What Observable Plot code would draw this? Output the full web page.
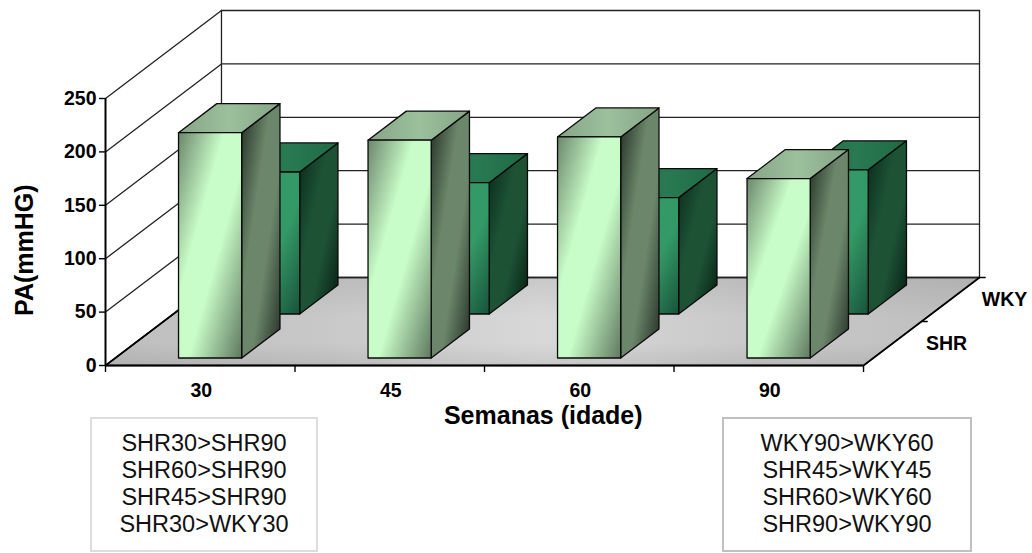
<!DOCTYPE html>
<html>
<head>
<meta charset="utf-8">
<script src="https://cdn.jsdelivr.net/npm/d3@7"></script>
<script src="https://cdn.jsdelivr.net/npm/@observablehq/plot@0.6"></script>
<style>
html,body{margin:0;padding:0;background:#fff;}
#wrap{width:1032px;height:553px;position:relative;overflow:hidden;font-family:"Liberation Sans",Arial,sans-serif;}
#notes{position:relative;height:136px;}
.box{position:absolute;top:0;height:135px;box-sizing:border-box;border-style:solid;border-width:2px;display:flex;align-items:center;justify-content:center;text-align:center;font-size:23.5px;line-height:27px;color:#111;background:#fff;padding-bottom:2px;}
</style>
</head>
<body>
<div id="wrap"></div>
<script>
const weeks = ["30", "45", "60", "90"];
const shrValues = [211, 204, 207, 168];
const wkyValues = [133, 123, 109, 135];
const valueTicks = [0, 50, 100, 150, 200, 250];
const seriesNames = ["SHR", "WKY"];
const leftNotes = ["SHR30>SHR90", "SHR60>SHR90", "SHR45>SHR90", "SHR30>WKY30"];
const rightNotes = ["WKY90>WKY60", "SHR45>WKY45", "SHR60>WKY60", "SHR90>WKY90"];

// oblique projection: depth d in [0, 2] (series slots) shifts along x and up in value
const DX = 0.306;   // category widths per series slot
const DY = 41.2;    // value units per series slot
const P = (c, v, d) => ({x: c + d * DX, y: v + d * DY});
const seg = (pts, opts) => Plot.line(pts, {x: "x", y: "y", curve: "linear", ...opts});
const poly = (pts, opts) => seg([...pts, pts[0]], opts);

const grid = {stroke: "#222", strokeWidth: 1.3};
const walls = valueTicks.flatMap(v => [
  seg([P(0, v, 0), P(0, v, 2)], grid),
  seg([P(0, v, 2), P(4, v, 2)], grid)
]);
walls.push(seg([P(0, 0, 2), P(0, 250, 2)], grid));
walls.push(seg([P(4, 0, 2), P(4, 250, 2)], grid));

const floorCorners = [P(0, 0, 0), P(4, 0, 0), P(4, 0, 2), P(0, 0, 2)];
const floor = [
  poly(floorCorners, {fill: "url(#floor)", stroke: "#222", strokeWidth: 1.3}),
  poly(floorCorners, {fill: "url(#floorshade)"})
];

function bar(i, v, slot, kind) {
  const c0 = i + 1 / 3, c1 = i + 2 / 3;          // gap width 200%
  const d0 = slot + 0.17, d1 = slot + 0.83;
  const line = {stroke: "#0a0a0a", strokeWidth: 1.3};
  return [
    poly([P(c1, 0, d0), P(c1, 0, d1), P(c1, v, d1), P(c1, v, d0)], {fill: `url(#${kind}side)`, ...line}),
    poly([P(c0, v, d0), P(c1, v, d0), P(c1, v, d1), P(c0, v, d1)], {fill: `url(#${kind}top)`, ...line}),
    poly([P(c0, 0, d0), P(c1, 0, d0), P(c1, v, d0), P(c0, v, d0)], {fill: `url(#${kind}front)`, ...line})
  ];
}

function stop(o, c, a) { return `<stop offset="${o}" stop-color="${c}"${a === undefined ? "" : ` stop-opacity="${a}"`}/>`; }
function grad(id, x1, y1, x2, y2, stops) {
  return `<linearGradient id="${id}" x1="${x1}" y1="${y1}" x2="${x2}" y2="${y2}">${stops.map(s => stop(s[0], s[1], s[2])).join("")}</linearGradient>`;
}
const defs = () => {
  const s = document.createElementNS("http://www.w3.org/2000/svg", "g");
  const d = document.createElementNS("http://www.w3.org/2000/svg", "defs");
  d.innerHTML = [
    grad("floor", 0, 0, 1, 0, [[0, "#bebebe"], [0.25, "#c8c8c8"], [0.5, "#d8d8d8"], [0.75, "#c8c8c8"], [1, "#bebebe"]]),
    grad("floorshade", 0, 0, 0, 1, [[0, "#000", 0.07], [0.45, "#000", 0], [0.75, "#000", 0], [1, "#000", 0.07]]),
    grad("shrfront", 0, 0, 1, 1, [[0, "#6c876c"], [0.36, "#c8fcc8"], [0.58, "#c8fcc8"], [1, "#5f785f"]]),
    grad("shrside", 0, 0, 1, 1, [[0, "#242e24"], [0.38, "#6b866b"], [0.62, "#6b866b"], [1, "#242e24"]]),
    grad("shrtop", 0, 0, 1, 0, [[0, "#86a586"], [0.5, "#9cc09c"], [1, "#86a586"]]),
    grad("wkyfront", 0, 0, 1, 1, [[0, "#2a8055"], [0.3, "#339966"], [0.6, "#339966"], [1, "#18533a"]]),
    grad("wkyside", 0, 0, 1, 1, [[0, "#082818"], [0.38, "#1d5235"], [0.62, "#1d5235"], [1, "#051a0f"]]),
    grad("wkytop", 0, 0, 1, 0, [[0, "#1f6a44"], [0.5, "#297a52"], [1, "#1f6a44"]])
  ].join("");
  s.appendChild(d);
  return s;
};

const bold = {fontFamily: "Liberation Sans, Arial, sans-serif", fontWeight: "bold", fill: "#000"};
const axisLine = {stroke: "#000", strokeWidth: 1.4};

const chart = Plot.plot({
  width: 1032,
  height: 417,
  marginLeft: 105,
  marginRight: 53,
  marginTop: 10,
  marginBottom: 52,
  x: {domain: [0, 4 + 2 * DX], axis: null},
  y: {domain: [0, 250 + 2 * DY], axis: null},
  style: {background: "transparent", overflow: "visible"},
  marks: [
    defs,
    ...floor,
    ...walls,
    Plot.ruleY([0], {x1: 0, x2: 4, stroke: "#000", strokeWidth: 2}),
    Plot.ruleX([0], {y1: 0, y2: 250, stroke: "#000", strokeWidth: 2}),
    seg([P(0, 0, 0), P(0, 0, 2)], {stroke: "#000", strokeWidth: 1.6}),
    seg([P(4, 0, 0), P(4, 0, 2)], {stroke: "#000", strokeWidth: 1.6}),
    ...wkyValues.flatMap((v, i) => bar(i, v, 1, "wky")),
    ...shrValues.flatMap((v, i) => bar(i, v, 0, "shr")),
    Plot.axisY({ticks: valueTicks, tickSize: 6, tickPadding: 3, tickFormat: d => String(d), label: null, fontSize: 19.5, ...bold, ...axisLine}),
    Plot.axisX({ticks: d3.range(0, weeks.length + 1), tickSize: 7, tickFormat: () => "", label: null, ...axisLine}),
    Plot.text(weeks.map((w, i) => ({w, x: i + 0.5, y: 0})), {x: "x", y: "y", text: "w", dx: 1, dy: 25, fontSize: 19.5, ...bold}),
    ...[1, 2].map(k => { const p = P(4, 0, k); return seg([p, {x: p.x + 0.03, y: p.y}], axisLine); }),
    Plot.text(seriesNames.map((s, k) => ({s, ...P(4, 0, k + 0.5)})), {x: "x", y: "y", text: "s", dx: 54, dy: 0, fontSize: 19.5, ...bold}),
    Plot.text(["Semanas (idade)"], {x: 2.31, y: 0, dy: 50, fontSize: 25, ...bold}),
    Plot.text(["PA(mmHG)"], {x: 0, y: 108, dx: -81, rotate: -90, fontSize: 25, ...bold})
  ]
});

const wrap = document.getElementById("wrap");
wrap.appendChild(chart);
chart.style.display = "block";

const notes = document.createElement("div");
notes.id = "notes";
function box(lines, left, w, color) {
  const b = document.createElement("div");
  b.className = "box";
  b.style.left = left + "px";
  b.style.width = w + "px";
  b.style.borderColor = color;
  b.innerHTML = "<div>" + lines.map(l => l.replace(">", "&gt;")).join("<br>") + "</div>";
  notes.appendChild(b);
}
box(leftNotes, 90, 228, "#dddddd");
box(rightNotes, 722, 250, "#c0c0c0");
wrap.appendChild(notes);
</script>
</body>
</html>
